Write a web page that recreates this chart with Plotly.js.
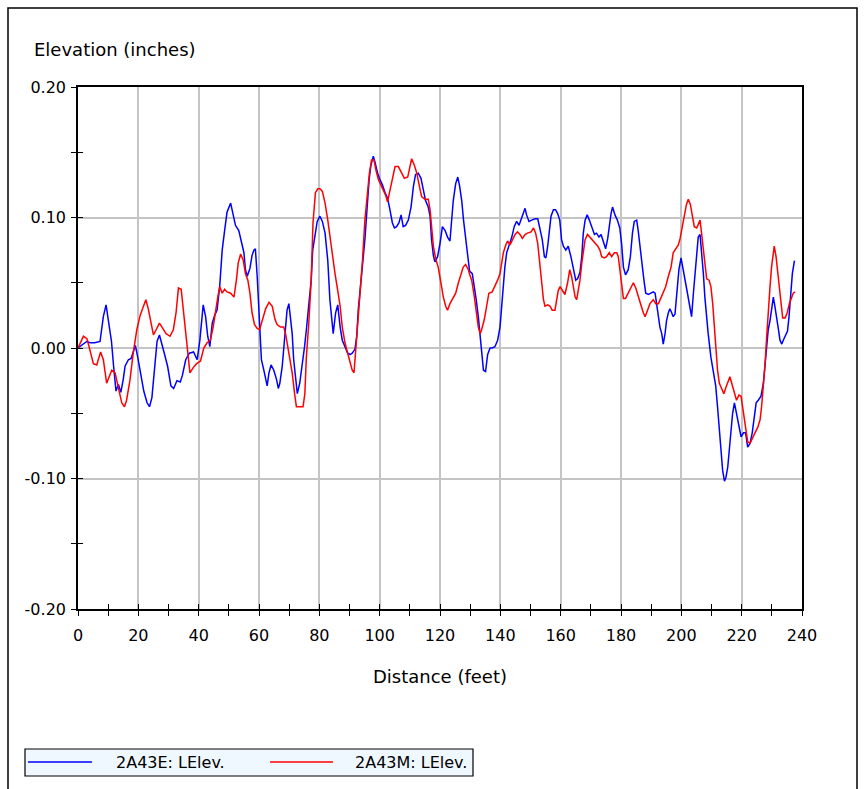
<!DOCTYPE html>
<html>
<head>
<meta charset="utf-8">
<script src="https://cdn.plot.ly/plotly-3.0.1.min.js"></script>
<style>
  html, body { margin: 0; padding: 0; background: #ffffff; }
  #chart { width: 867px; height: 789px; }
</style>
</head>
<body>
<div id="chart"></div>
<script>
// Longitudinal elevation profiles, distance along the run in feet
const seriesNameE = "2A43E: LElev.";
const seriesNameM = "2A43M: LElev.";

const distE = [
  0, 1.2, 2.9, 4.0, 5.5, 7.3, 8.4, 9.3, 10.0, 11.1, 11.8, 12.6, 13.4, 14.2, 15.0, 15.6, 16.7, 17.6, 18.3, 19.0,
  19.8, 20.7, 21.8, 22.9, 23.7, 24.5, 25.3, 26.2, 27.0, 27.7, 28.6, 29.7, 30.8, 31.7, 32.8, 33.9, 34.6, 35.7, 36.9, 38.3,
  39.5, 40.4, 41.5, 42.3, 43.0, 43.7, 44.5, 45.3, 46.1, 47.0, 47.8, 48.6, 49.4, 50.6, 51.4, 52.2, 53.3, 54.1, 55.0, 55.5,
  56.1, 57.0, 57.7, 58.3, 58.8, 59.4, 60.2, 60.8, 61.6, 62.2, 62.7, 63.3, 64.0, 64.9, 65.8, 66.4, 66.9, 67.7, 68.2, 68.8,
  69.3, 69.9, 70.4, 71.0, 71.5, 72.1, 72.7, 73.5, 74.3, 75.1, 75.7, 76.5, 77.3, 77.8, 78.4, 79.3, 80.2, 81.0, 81.9, 82.8,
  83.5, 84.1, 84.6, 85.4, 86.1, 86.9, 87.6, 88.5, 89.4, 90.2, 90.9, 91.8, 92.4, 92.9, 93.7, 94.4, 95.1, 95.7, 96.5, 97.1,
  97.9, 98.5, 99.3, 100.1, 100.9, 101.8, 102.6, 103.4, 104.2, 104.9, 105.6, 106.4, 107.1, 107.8, 108.6, 109.5, 110.4, 111.2, 111.9, 112.8,
  113.7, 114.5, 115.2, 116.1, 116.7, 117.2, 117.8, 118.3, 119.2, 120.0, 120.8, 121.7, 122.5, 123.3, 123.9, 124.4, 125.2, 125.9, 126.5, 127.2,
  127.8, 128.5, 129.2, 129.8, 130.7, 131.4, 132.0, 132.7, 133.3, 133.8, 134.4, 135.1, 135.8, 136.6, 137.3, 138.2, 139.1, 139.9, 140.4, 141.0,
  141.5, 142.1, 142.9, 143.8, 144.6, 145.4, 146.2, 146.8, 147.6, 148.2, 148.7, 149.5, 150.4, 151.5, 152.4, 153.1, 153.9, 154.6, 155.1, 155.7,
  156.2, 156.8, 157.6, 158.3, 159.0, 159.7, 160.3, 160.9, 161.7, 162.5, 163.4, 164.2, 165.0, 165.6, 166.4, 167.0, 167.5, 168.1, 168.8, 169.5,
  170.3, 171.2, 171.9, 172.7, 173.4, 174.1, 174.9, 175.6, 176.1, 176.7, 177.2, 178.0, 178.8, 179.6, 180.2, 180.8, 181.5, 182.4, 183.1, 183.8,
  184.4, 185.2, 185.7, 186.4, 187.1, 187.6, 188.2, 189.1, 190.0, 190.7, 191.3, 191.8, 192.4, 192.9, 193.5, 194.0, 194.6, 195.1, 195.7, 196.2,
  196.8, 197.3, 197.9, 198.5, 199.2, 199.9, 200.7, 201.4, 202.1, 202.9, 203.4, 204.0, 204.5, 205.1, 205.6, 206.2, 206.7, 207.3, 207.8, 208.4,
  208.9, 209.8, 210.6, 211.4, 212.0, 212.6, 213.2, 213.7, 214.3, 214.8, 215.4, 215.9, 216.5, 217.0, 217.6, 218.1, 218.7, 219.2, 219.8, 220.6,
  221.3, 222.0, 222.8, 223.5, 224.2, 224.8, 225.5, 226.4, 227.2, 227.7, 228.3, 228.8, 229.4, 229.9, 230.5, 231.0, 231.6, 232.2, 232.7, 233.3,
  233.8, 234.6, 235.2, 235.7, 236.2, 236.8, 237.5
];
const elevE = [
  0.000, 0.002, 0.005, 0.004, 0.004, 0.005, 0.024, 0.033, 0.022, 0.005, -0.014, -0.033, -0.028, -0.034, -0.024, -0.014, -0.009, -0.008, -0.003, 0.002,
  -0.007, -0.020, -0.033, -0.042, -0.045, -0.038, -0.017, 0.005, 0.010, 0.003, -0.004, -0.014, -0.029, -0.031, -0.025, -0.026, -0.021, -0.009, -0.004, -0.003,
  -0.009, 0.006, 0.033, 0.024, 0.009, 0.001, 0.019, 0.025, 0.029, 0.048, 0.075, 0.090, 0.104, 0.111, 0.101, 0.094, 0.090, 0.083, 0.073, 0.060,
  0.055, 0.061, 0.071, 0.075, 0.076, 0.055, 0.019, -0.009, -0.017, -0.024, -0.029, -0.019, -0.013, -0.017, -0.024, -0.031, -0.027, -0.014, 0.001, 0.014,
  0.029, 0.034, 0.024, 0.011, -0.009, -0.024, -0.035, -0.027, -0.014, 0.001, 0.014, 0.034, 0.052, 0.075, 0.083, 0.097, 0.101, 0.097, 0.088, 0.067,
  0.037, 0.019, 0.011, 0.027, 0.033, 0.016, 0.006, 0.001, -0.004, -0.005, -0.004, -0.001, 0.009, 0.029, 0.047, 0.062, 0.083, 0.103, 0.129, 0.140,
  0.147, 0.142, 0.134, 0.129, 0.125, 0.119, 0.115, 0.106, 0.096, 0.092, 0.093, 0.096, 0.102, 0.093, 0.094, 0.098, 0.108, 0.124, 0.133, 0.134,
  0.130, 0.121, 0.113, 0.108, 0.101, 0.083, 0.071, 0.066, 0.070, 0.080, 0.093, 0.090, 0.085, 0.082, 0.098, 0.113, 0.126, 0.131, 0.124, 0.113,
  0.098, 0.085, 0.070, 0.059, 0.057, 0.047, 0.037, 0.024, 0.009, -0.006, -0.017, -0.018, -0.005, 0.000, 0.000, 0.001, 0.006, 0.016, 0.032, 0.044,
  0.062, 0.073, 0.078, 0.085, 0.093, 0.097, 0.094, 0.098, 0.103, 0.107, 0.102, 0.097, 0.098, 0.099, 0.099, 0.092, 0.083, 0.070, 0.069, 0.078,
  0.090, 0.101, 0.106, 0.106, 0.103, 0.098, 0.083, 0.078, 0.075, 0.078, 0.070, 0.060, 0.052, 0.053, 0.058, 0.070, 0.088, 0.098, 0.102, 0.098,
  0.093, 0.087, 0.088, 0.085, 0.087, 0.081, 0.076, 0.084, 0.095, 0.103, 0.108, 0.102, 0.098, 0.092, 0.080, 0.062, 0.056, 0.060, 0.070, 0.088,
  0.097, 0.098, 0.090, 0.078, 0.062, 0.052, 0.042, 0.041, 0.042, 0.043, 0.042, 0.034, 0.025, 0.016, 0.011, 0.003, 0.011, 0.021, 0.027, 0.030,
  0.027, 0.024, 0.026, 0.042, 0.060, 0.069, 0.060, 0.050, 0.041, 0.032, 0.024, 0.042, 0.057, 0.073, 0.085, 0.087, 0.075, 0.057, 0.039, 0.021,
  0.011, -0.007, -0.019, -0.029, -0.045, -0.065, -0.083, -0.094, -0.102, -0.099, -0.091, -0.076, -0.065, -0.050, -0.042, -0.048, -0.055, -0.063, -0.068, -0.065,
  -0.065, -0.076, -0.073, -0.065, -0.050, -0.042, -0.040, -0.037, -0.027, -0.014, 0.001, 0.014, 0.021, 0.029, 0.039, 0.032, 0.021, 0.014, 0.006, 0.003,
  0.006, 0.010, 0.013, 0.024, 0.042, 0.057, 0.067
];

const distM = [
  0, 1.8, 3.0, 4.2, 5.1, 6.2, 7.5, 8.4, 9.5, 10.0, 11.2, 12.3, 13.4, 14.5, 15.4, 16.1, 17.2, 18.3, 19.5, 20.6,
  21.7, 22.5, 23.3, 24.1, 25.0, 25.9, 27.0, 28.1, 29.2, 30.5, 31.6, 32.5, 33.3, 34.2, 34.9, 35.8, 36.6, 37.1, 38.2, 39.3,
  40.6, 41.7, 42.8, 43.9, 44.8, 45.6, 46.4, 47.0, 47.8, 48.6, 49.4, 50.6, 51.7, 52.5, 53.1, 53.9, 54.8, 55.5, 56.3, 57.0,
  57.7, 58.5, 59.4, 60.2, 61.1, 62.2, 63.3, 64.4, 65.3, 66.0, 67.1, 68.2, 68.8, 69.6, 70.2, 71.0, 71.8, 72.4, 73.5, 74.6,
  75.2, 75.7, 76.5, 77.3, 77.9, 78.7, 79.5, 80.2, 81.0, 81.9, 82.8, 83.5, 84.3, 85.2, 86.1, 86.9, 87.6, 88.5, 89.4, 90.2,
  90.9, 91.5, 92.0, 92.7, 93.5, 94.3, 95.1, 95.9, 96.6, 97.3, 98.1, 98.8, 99.6, 100.4, 101.2, 102.0, 102.6, 103.4, 104.2, 105.1,
  106.2, 107.1, 108.2, 109.3, 110.1, 110.6, 111.5, 112.3, 113.0, 113.9, 115.0, 116.1, 116.7, 117.2, 117.8, 118.6, 119.4, 120.3, 121.1, 121.9,
  122.5, 123.3, 124.4, 125.2, 126.1, 127.0, 127.7, 128.5, 129.4, 129.9, 130.5, 131.4, 132.2, 132.7, 133.3, 133.8, 134.7, 135.5, 136.2, 137.3,
  138.2, 139.1, 139.9, 140.4, 141.0, 141.8, 142.4, 143.2, 144.0, 144.9, 145.7, 146.5, 147.3, 148.2, 149.0, 150.2, 151.0, 151.7, 152.4, 153.1,
  153.7, 154.3, 154.8, 155.7, 156.5, 157.2, 158.1, 158.7, 159.2, 159.8, 160.6, 161.4, 162.3, 163.0, 163.6, 164.2, 164.8, 165.3, 165.9, 166.4,
  167.0, 167.5, 168.1, 168.9, 169.7, 170.5, 171.4, 172.3, 173.0, 173.6, 174.5, 175.2, 176.1, 176.9, 177.8, 178.6, 179.1, 179.7, 180.2, 180.8,
  181.5, 182.4, 183.3, 184.1, 184.9, 185.7, 186.6, 187.4, 188.0, 188.8, 189.6, 190.7, 191.5, 192.4, 193.3, 194.0, 194.8, 195.7, 196.6, 197.3,
  198.1, 199.0, 199.6, 200.3, 201.0, 201.7, 202.3, 203.0, 203.6, 204.3, 205.1, 205.6, 206.2, 206.7, 207.3, 207.8, 208.4, 209.2, 209.8, 210.4,
  210.9, 211.5, 212.0, 212.6, 213.4, 214.1, 214.8, 215.6, 216.1, 216.7, 217.6, 218.3, 219.1, 219.8, 220.3, 220.9, 221.4, 222.0, 222.8, 223.5,
  224.4, 225.3, 226.1, 226.6, 227.2, 227.7, 228.3, 228.8, 229.4, 229.9, 230.5, 230.8, 231.4, 231.9, 232.5, 233.0, 233.6, 234.4, 235.1, 235.8,
  236.6, 237.1, 237.7
];
const elevM = [
  0.000, 0.009, 0.007, -0.004, -0.012, -0.013, -0.003, -0.009, -0.027, -0.024, -0.017, -0.019, -0.030, -0.042, -0.045, -0.040, -0.025, -0.004, 0.014, 0.025,
  0.032, 0.037, 0.030, 0.019, 0.010, 0.014, 0.019, 0.015, 0.011, 0.009, 0.014, 0.027, 0.046, 0.045, 0.029, 0.006, -0.012, -0.019, -0.015, -0.012,
  -0.010, 0.000, 0.004, 0.006, 0.016, 0.029, 0.040, 0.047, 0.042, 0.045, 0.043, 0.042, 0.039, 0.052, 0.065, 0.072, 0.067, 0.057, 0.052, 0.042,
  0.027, 0.018, 0.015, 0.014, 0.022, 0.030, 0.035, 0.032, 0.022, 0.018, 0.016, 0.016, 0.011, 0.001, -0.009, -0.019, -0.035, -0.045, -0.045, -0.045,
  -0.035, -0.007, 0.019, 0.052, 0.096, 0.119, 0.122, 0.122, 0.120, 0.111, 0.098, 0.085, 0.073, 0.057, 0.044, 0.032, 0.016, 0.004, -0.004, -0.012,
  -0.017, -0.019, -0.004, 0.016, 0.042, 0.067, 0.098, 0.116, 0.134, 0.144, 0.144, 0.136, 0.129, 0.125, 0.121, 0.117, 0.112, 0.121, 0.131, 0.139,
  0.139, 0.135, 0.130, 0.131, 0.139, 0.145, 0.140, 0.134, 0.126, 0.116, 0.114, 0.114, 0.106, 0.091, 0.078, 0.068, 0.062, 0.050, 0.039, 0.032,
  0.029, 0.034, 0.039, 0.042, 0.050, 0.057, 0.062, 0.064, 0.060, 0.056, 0.052, 0.039, 0.027, 0.016, 0.011, 0.014, 0.022, 0.034, 0.042, 0.043,
  0.047, 0.052, 0.057, 0.065, 0.073, 0.079, 0.082, 0.079, 0.083, 0.087, 0.089, 0.087, 0.084, 0.087, 0.088, 0.089, 0.092, 0.088, 0.080, 0.065,
  0.052, 0.037, 0.032, 0.033, 0.032, 0.029, 0.029, 0.037, 0.044, 0.047, 0.044, 0.041, 0.050, 0.060, 0.055, 0.047, 0.039, 0.037, 0.044, 0.052,
  0.065, 0.075, 0.083, 0.087, 0.085, 0.083, 0.080, 0.078, 0.075, 0.070, 0.069, 0.070, 0.073, 0.070, 0.073, 0.073, 0.070, 0.060, 0.052, 0.038,
  0.038, 0.042, 0.047, 0.050, 0.046, 0.039, 0.033, 0.027, 0.024, 0.029, 0.034, 0.037, 0.034, 0.034, 0.039, 0.044, 0.047, 0.055, 0.062, 0.073,
  0.076, 0.079, 0.084, 0.093, 0.102, 0.110, 0.114, 0.110, 0.102, 0.093, 0.092, 0.095, 0.098, 0.088, 0.075, 0.065, 0.053, 0.052, 0.047, 0.034,
  0.019, -0.001, -0.017, -0.027, -0.032, -0.035, -0.030, -0.025, -0.022, -0.027, -0.035, -0.040, -0.036, -0.037, -0.045, -0.055, -0.065, -0.072, -0.073, -0.069,
  -0.065, -0.061, -0.055, -0.045, -0.029, -0.014, 0.009, 0.029, 0.047, 0.062, 0.074, 0.078, 0.070, 0.060, 0.047, 0.034, 0.023, 0.023, 0.027, 0.034,
  0.039, 0.042, 0.043
];

// Axis labelling
const xTickVals = [0, 20, 40, 60, 80, 100, 120, 140, 160, 180, 200, 220, 240];
const xTickText = ["0", "20", "40", "60", "80", "100", "120", "140", "160", "180", "200", "220", "240"];
const yTickVals = [-0.2, -0.1, 0, 0.1, 0.2];
const yTickText = ["-0.20", "-0.10", "0.00", "0.10", "0.20"];
const xTitle = "Distance (feet)";
const yTitle = "Elevation (inches)";

// Page geometry (pixels) used to place paper-referenced decorations
const W = 867, H = 789;
const M = { l: 78, r: 65, t: 87, b: 180 };
const plotW = W - M.l - M.r, plotH = H - M.t - M.b;
const px = x => (x - M.l) / plotW;
const py = y => (H - M.b - y) / plotH;

const FONT = "DejaVu Sans, Verdana, sans-serif";
const BLUE = "#0000ff", RED = "#ff0000";

// The second profile sits on an overlaid pair of axes with identical ranges;
// that pair carries the inward half of the crossing tick marks.
const traces = [
  { x: distE, y: elevE, type: "scatter", mode: "lines", name: seriesNameE,
    line: { color: BLUE, width: 1.5 }, hoverinfo: "x+y+name" },
  { x: distM, y: elevM, xaxis: "x2", yaxis: "y2", type: "scatter", mode: "lines", name: seriesNameM,
    line: { color: RED, width: 1.5 }, hoverinfo: "x+y+name" }
];

const tickBase = { ticklen: 5, tickwidth: 1.3, tickcolor: "#000000" };

const legendY = 762;
const layout = {
  width: W, height: H,
  margin: M,
  paper_bgcolor: "#ffffff",
  plot_bgcolor: "#ffffff",
  showlegend: false,
  font: { family: FONT, size: 16, color: "#000000" },
  xaxis: {
    range: [0, 240], tickmode: "array", tickvals: xTickVals, ticktext: xTickText,
    ticks: "outside", ...tickBase,
    minor: { tickmode: "linear", tick0: 0, dtick: 10, ticks: "outside", ...tickBase, showgrid: false },
    showgrid: true, gridcolor: "#c4c4c4", gridwidth: 1.5,
    zeroline: false, showline: true, linecolor: "#000000", linewidth: 1.6, mirror: true,
    tickfont: { family: FONT, size: 16, color: "#000000" },
    ticklabelstandoff: 6,
    title: { text: xTitle, font: { family: FONT, size: 18, color: "#000000" }, standoff: 26 }
  },
  yaxis: {
    range: [-0.2, 0.2], tickmode: "array", tickvals: yTickVals, ticktext: yTickText,
    ticks: "outside", ...tickBase,
    minor: { tickmode: "linear", tick0: 0, dtick: 0.05, ticks: "outside", ...tickBase, showgrid: false },
    showgrid: true, gridcolor: "#c4c4c4", gridwidth: 1.5,
    zeroline: false, showline: true, linecolor: "#000000", linewidth: 1.6, mirror: true,
    tickfont: { family: FONT, size: 16, color: "#000000" },
    ticklabelstandoff: 2
  },
  xaxis2: {
    overlaying: "x", anchor: "y2", side: "bottom", range: [0, 240],
    tickmode: "linear", tick0: 0, dtick: 10, ticks: "inside", ...tickBase,
    showticklabels: false, showgrid: false, zeroline: false, showline: false
  },
  yaxis2: {
    overlaying: "y", anchor: "x2", side: "left", range: [-0.2, 0.2],
    tickmode: "linear", tick0: 0, dtick: 0.05, ticks: "inside", ...tickBase,
    showticklabels: false, showgrid: false, zeroline: false, showline: false
  },
  shapes: [
    // outer frame of the chart panel
    { type: "rect", xref: "paper", yref: "paper",
      x0: px(8), x1: px(857), y0: py(800), y1: py(8),
      line: { color: "#000000", width: 1.5 }, fillcolor: "rgba(0,0,0,0)", layer: "below" },
    // legend box
    { type: "rect", xref: "paper", yref: "paper",
      x0: px(25), x1: px(473), y0: py(776), y1: py(749),
      line: { color: "#000000", width: 1.2 }, fillcolor: "#f0f8ff" },
    { type: "line", xref: "paper", yref: "paper",
      x0: px(28), x1: px(92), y0: py(legendY), y1: py(legendY),
      line: { color: BLUE, width: 1.5 } },
    { type: "line", xref: "paper", yref: "paper",
      x0: px(270), x1: px(333), y0: py(legendY), y1: py(legendY),
      line: { color: RED, width: 1.5 } }
  ],
  annotations: [
    { text: yTitle, xref: "paper", yref: "paper", x: px(32), y: py(49),
      xanchor: "left", yanchor: "middle", showarrow: false,
      font: { family: FONT, size: 18, color: "#000000" } },
    { text: seriesNameE, xref: "paper", yref: "paper", x: px(114), y: py(legendY),
      xanchor: "left", yanchor: "middle", showarrow: false,
      font: { family: FONT, size: 16, color: "#000000" } },
    { text: seriesNameM, xref: "paper", yref: "paper", x: px(353), y: py(legendY),
      xanchor: "left", yanchor: "middle", showarrow: false,
      font: { family: FONT, size: 16, color: "#000000" } }
  ]
};

Plotly.newPlot("chart", traces, layout, { displayModeBar: false, responsive: false });
</script>
</body>
</html>
